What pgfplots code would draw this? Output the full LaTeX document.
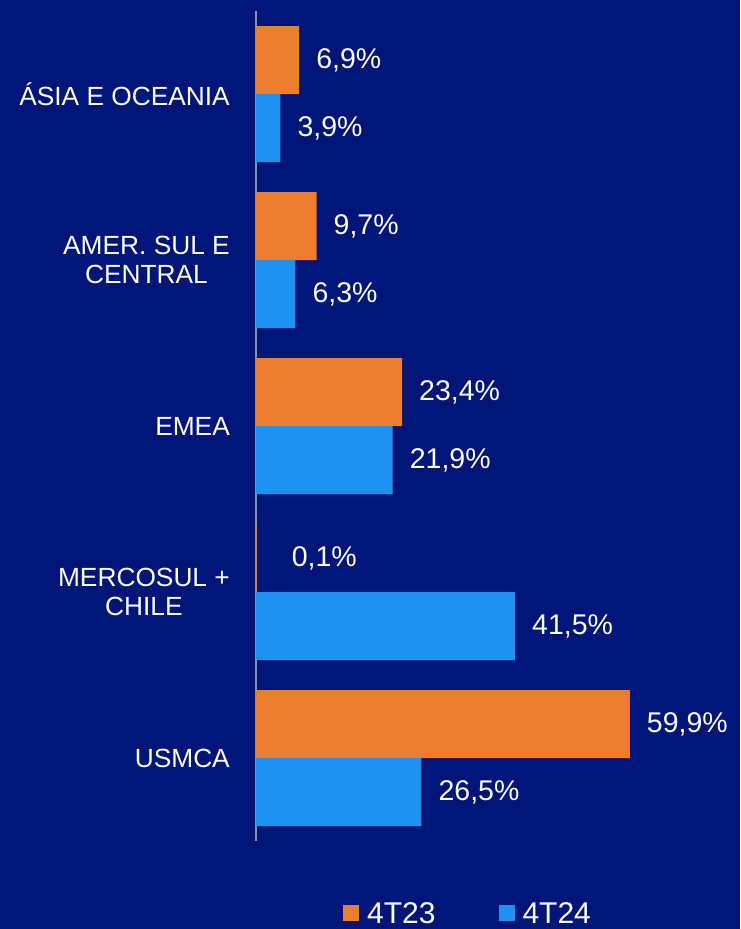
\documentclass[border=0pt]{standalone}
\usepackage{fontspec}
\setmainfont{Liberation Sans}
\usepackage{pgfplots}
\pgfplotsset{compat=1.18}
\definecolor{bg}{RGB}{0,21,120}
\definecolor{c23}{RGB}{237,125,49}
\definecolor{c24}{RGB}{30,146,240}
\definecolor{axg}{RGB}{140,146,170}
\begin{document}
\begin{tikzpicture}
\fill[bg] (0,0) rectangle (740pt,-929pt);
\begin{axis}[
  at={(256pt,-841pt)}, anchor=south west,
  scale only axis, width=436.8pt, height=830pt,
  xbar, bar width=68pt,
  xmin=0, xmax=70, ymin=-0.5, ymax=4.5,
  y dir=reverse,
  axis x line=none, axis y line=left,
  y axis line style={axg, line width=1.2pt, -},
  ytick={0,1,2,3,4},
  yticklabels={{ÁSIA E OCEANIA},{AMER. SUL E\\CENTRAL},{EMEA},{MERCOSUL +\\CHILE},{USMCA}},
  major tick length=0pt,
  yticklabel style={align=center, text=white, inner sep=0pt, xshift=-26pt,
    font=\fontsize{26.3}{29}\selectfont},
  point meta=explicit symbolic,
  nodes near coords,
  nodes near coords style={anchor=west, inner sep=0pt, xshift=17pt, text=white,
    font=\fontsize{28.5}{30}\selectfont},
  legend columns=2,
  legend style={at={(0.199,-0.1010)}, anchor=south west, draw=none, fill=none,
    inner sep=0pt, font=\fontsize{30}{32}\selectfont, text=white,
    nodes={inner sep=0pt, text=white},
    /tikz/every even column/.append style={column sep=63pt}},
  legend image code/.code={\fill (0pt,-8pt) rectangle (16pt,8pt); \path (24pt,0pt);},
]
\addplot[fill=c23, draw=none, bar shift=34pt] coordinates {
  (6.9,0) [6,9\%]
  (9.7,1) [9,7\%]
  (23.4,2) [23,4\%]
  (0.1,3) [\hspace*{18pt}0,1\%]
  (59.9,4) [59,9\%]
};
\addplot[fill=c24, draw=none, bar shift=-34pt] coordinates {
  (3.9,0) [3,9\%]
  (6.3,1) [6,3\%]
  (21.9,2) [21,9\%]
  (41.5,3) [41,5\%]
  (26.5,4) [26,5\%]
};
\legend{4T23,4T24}
\end{axis}
\pgfresetboundingbox
\useasboundingbox (0,0) rectangle (740pt,-929pt);
\end{tikzpicture}
\end{document}
